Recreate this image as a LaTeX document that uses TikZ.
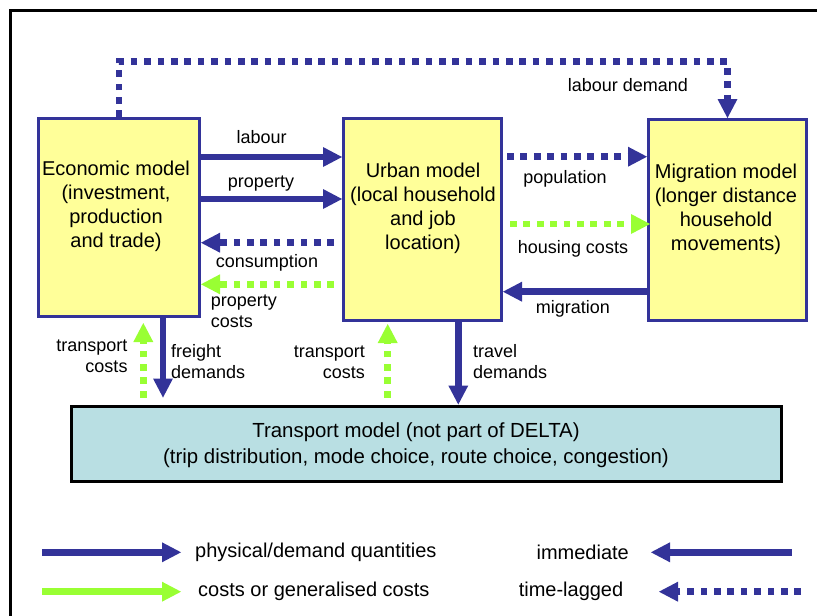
\documentclass[tikz,border=0pt]{standalone}
\usepackage{fontspec}
\setmainfont{Liberation Sans}
\usetikzlibrary{arrows.meta}
\definecolor{dnavy}{HTML}{333399}
\definecolor{dgreen}{HTML}{99FF33}
\definecolor{myellow}{HTML}{FFFF99}
\definecolor{tblue}{HTML}{B9DFE3}
\tikzset{
  model/.style={draw=dnavy, line width=3pt, fill=myellow, inner sep=0pt},
  modeltext/.style={align=center, inner sep=0pt, font=\fontsize{20}{24}\selectfont},
  lbl/.style={inner sep=0pt, font=\fontsize{18}{21}\selectfont},
  keytext/.style={inner sep=0pt, font=\fontsize{20}{24}\selectfont},
  tip/.style={-{Triangle[length=19pt,width=20pt,line width=0pt]}},
  phys/.style={tip, draw=dnavy, line width=6.7pt},
  physlag/.style={phys, dash pattern=on 6.7pt off 6.7pt},
  cost/.style={tip, draw=dgreen, line width=6.7pt},
  costlag/.style={cost, dash pattern=on 6.7pt off 6.7pt}
}
\begin{document}
\begin{tikzpicture}[x=1pt,y=-1pt]
  \useasboundingbox (0,0) rectangle (817,616);
  \clip (0,0) rectangle (817,616);
  \draw [line width=2.7pt] (10.7,10.7) rectangle (850,650);
  %
  \node [model, minimum width=161pt, minimum height=198pt] (econ) at (119,217.5) {};
  \node [model, minimum width=158pt, minimum height=202pt] (urban) at (422.5,219.5) {};
  \node [model, minimum width=158pt, minimum height=201pt] (migr) at (727.5,220) {};
  \node [draw, line width=3pt, fill=tblue, inner sep=0pt, minimum width=710pt, minimum height=75pt] (trans) at (426.5,443.5) {};
  %
  \node [modeltext] (econtxt) at (116,206.5) {Economic model\\(investment,\\production\\and trade)};
  \node [modeltext] (urbantxt) at (423,208.5) {Urban model\\(local household\\and job\\location)};
  \node [modeltext] (migrtxt) at (726,209) {Migration model\\(longer distance\\household\\movements)};
  \node [modeltext, font=\fontsize{20.4}{25.6}\selectfont] (transtxt) at (416,445.5) {Transport model (not part of DELTA)\\(trip distribution, mode choice, route choice, congestion)};
  %
  \draw [phys] (econ.east |- 0,157) -- (urban.west |- 0,157);
  \draw [phys] (econ.east |- 0,199) -- (urban.west |- 0,199);
  \draw [physlag, shorten <=8pt] (urban.west |- 0,242.7) -- (econ.east |- 0,242.7);
  \draw [costlag, shorten <=8pt] (urban.west |- 0,284.3) -- (econ.east |- 0,284.3);
  \draw [physlag, shorten <=4pt] (urban.east |- 0,156.7) -- (migr.west |- 0,156.7);
  \draw [costlag, shorten <=7pt, shorten >=-3pt] (urban.east |- 0,224) -- (migr.west |- 0,224);
  \draw [phys] (migr.west |- 0,291.7) -- (urban.east |- 0,291.7);
  \draw [physlag] (econ.north) -- (econ.north |- 0,61.7) -| (migr.north);
  \draw [phys, shorten >=7pt] (163,0 |- econ.south) -- (163,0 |- trans.north);
  \draw [costlag, shorten <=7pt, shorten >=5pt] (143.3,0 |- trans.north) -- (143.3,0 |- econ.south);
  \draw [costlag, shorten <=7pt, shorten >=2pt] (387.7,0 |- trans.north) -- (387.7,0 |- urban.south);
  \draw [phys] (458.3,0 |- urban.south) -- (458.3,0 |- trans.north);
  %
  \node [lbl] (lablabour) at (261.7,136.7) {labour};
  \node [lbl] (labprop) at (261,183.7) {property};
  \node [lbl] (labcons) at (267,262.7) {consumption};
  \node [lbl, align=left, anchor=west] (labpcost) at (210.7,311.7) {property\\costs};
  \node [lbl] (labpop) at (565,179) {population};
  \node [lbl] (labhouse) at (573,249) {housing costs};
  \node [lbl] (labmigr) at (573,309) {migration};
  \node [lbl] (labdemand) at (628,85) {labour demand};
  \node [lbl, align=left, anchor=west] (labfreight) at (171,361.7) {freight\\demands};
  \node [lbl, align=right, anchor=east] (labtcost) at (127.7,356.2) {transport\\costs};
  \node [lbl, align=right, anchor=east] (labtcost2) at (365,361.8) {transport\\costs};
  \node [lbl, align=left, anchor=west] (labtravel) at (473,361.8) {travel\\demands};
  %
  \coordinate (keyphysA) at (42,552.3);
  \coordinate (keyphysB) at (181,552.3);
  \coordinate (keycostA) at (42,591.7);
  \coordinate (keycostB) at (181,591.7);
  \coordinate (keyimmA) at (791.7,552.3);
  \coordinate (keyimmB) at (651,552.3);
  \coordinate (keylagA) at (801,591.7);
  \coordinate (keylagB) at (659,591.7);
  \draw [phys] (keyphysA) -- (keyphysB);
  \draw [cost] (keycostA) -- (keycostB);
  \draw [phys] (keyimmA) -- (keyimmB);
  \draw [physlag] (keylagA) -- (keylagB);
  \node [keytext, anchor=west] (keyphys) at (195,552) {physical/demand quantities};
  \node [keytext, anchor=west] (keycost) at (198,591) {costs or generalised costs};
  \node [keytext] (keyimm) at (582.7,552) {immediate};
  \node [keytext] (keylag) at (571,591) {time-lagged};
\end{tikzpicture}
\end{document}
